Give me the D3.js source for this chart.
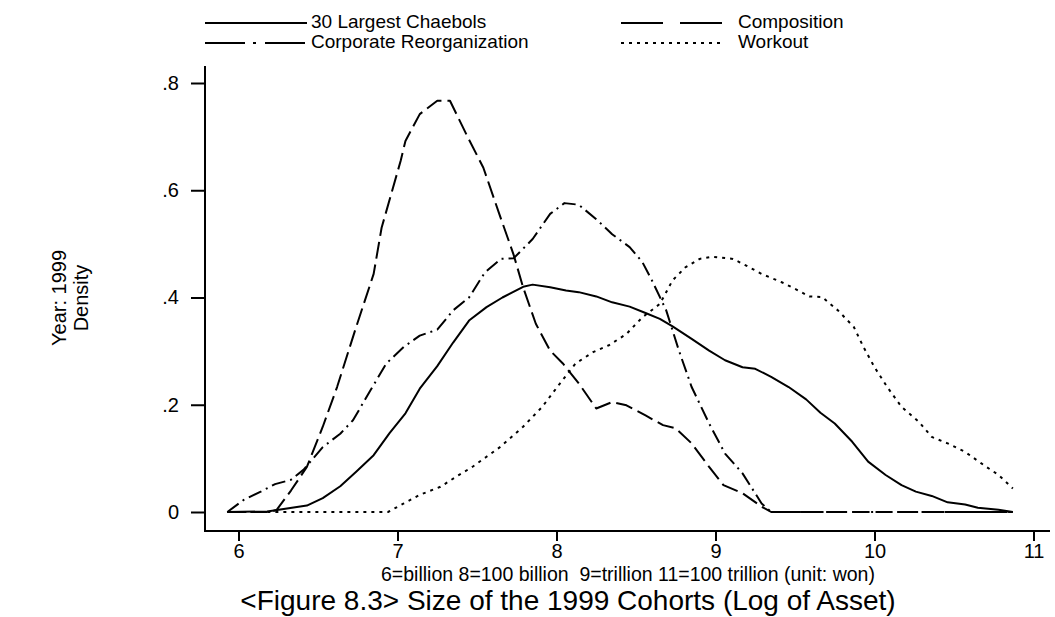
<!DOCTYPE html>
<html lang="en">
<head>
<meta charset="utf-8">
<title>Size of the 1999 Cohorts</title>
<script src="https://d3js.org/d3.v7.min.js"></script>
<style>
  body { margin: 0; background: #fff; }
  text { font-family: "Liberation Sans", Arial, Helvetica, sans-serif; fill: #000; }
</style>
</head>
<body>
<script>

// kernel density values: [log asset, density]
var chaebol30 = [[5.93,0],[6.18,0.001],[6.43,0.012],[6.53,0.026],[6.64,0.048],[6.74,0.075],[6.85,0.106],
  [6.95,0.147],[7.05,0.184],[7.14,0.23],[7.25,0.272],[7.35,0.316],[7.45,0.357],[7.56,0.382],[7.66,0.40],
  [7.79,0.42],[7.85,0.424],[7.96,0.419],[8.06,0.413],[8.14,0.41],[8.25,0.402],[8.35,0.391],[8.46,0.383],
  [8.56,0.371],[8.65,0.36],[8.73,0.346],[8.85,0.323],[8.96,0.301],[9.06,0.283],[9.17,0.27],[9.25,0.267],
  [9.35,0.252],[9.46,0.233],[9.57,0.21],[9.66,0.185],[9.75,0.165],[9.86,0.131],[9.96,0.094],[10.07,0.069],
  [10.17,0.05],[10.26,0.038],[10.36,0.03],[10.46,0.018],[10.57,0.014],[10.65,0.008],[10.78,0.004],[10.87,0]];

var composition = [[5.93,0],[6.2,0],[6.24,0.004],[6.33,0.04],[6.43,0.084],[6.53,0.159],[6.62,0.233],
  [6.74,0.345],[6.85,0.444],[6.90,0.53],[7.02,0.655],[7.05,0.692],[7.14,0.742],[7.25,0.767],[7.33,0.767],
  [7.44,0.70],[7.54,0.642],[7.64,0.556],[7.73,0.48],[7.79,0.419],[7.87,0.351],[7.96,0.301],[8.04,0.277],
  [8.14,0.24],[8.25,0.193],[8.35,0.205],[8.44,0.199],[8.56,0.18],[8.67,0.162],[8.75,0.156],[8.85,0.128],
  [8.96,0.084],[9.05,0.05],[9.17,0.035],[9.29,0.01],[9.35,0],[10.87,0]];

var reorganization = [[5.93,0],[6.03,0.022],[6.14,0.038],[6.23,0.052],[6.33,0.06],[6.41,0.079],[6.53,0.121],
  [6.64,0.146],[6.72,0.171],[6.83,0.227],[6.93,0.277],[7.04,0.308],[7.14,0.329],[7.25,0.34],[7.35,0.376],
  [7.45,0.40],[7.55,0.447],[7.65,0.472],[7.73,0.473],[7.85,0.509],[7.96,0.556],[8.05,0.576],[8.14,0.573],
  [8.25,0.546],[8.35,0.518],[8.46,0.494],[8.54,0.466],[8.60,0.432],[8.69,0.376],[8.77,0.301],[8.85,0.233],
  [8.96,0.165],[9.06,0.109],[9.17,0.072],[9.29,0.016],[9.35,0],[10.87,0]];

var workout = [[5.93,0],[6.94,0],[7.04,0.016],[7.14,0.032],[7.27,0.047],[7.37,0.066],[7.47,0.084],
  [7.56,0.103],[7.64,0.12],[7.79,0.159],[7.91,0.196],[8.02,0.239],[8.12,0.277],[8.23,0.298],[8.33,0.311],
  [8.44,0.332],[8.54,0.363],[8.65,0.388],[8.73,0.432],[8.81,0.456],[8.90,0.472],[8.98,0.476],[9.11,0.472],
  [9.19,0.46],[9.29,0.444],[9.42,0.428],[9.52,0.413],[9.59,0.402],[9.67,0.401],[9.77,0.376],[9.87,0.345],
  [9.93,0.308],[10.0,0.27],[10.08,0.233],[10.17,0.196],[10.28,0.168],[10.36,0.14],[10.46,0.128],
  [10.57,0.112],[10.67,0.091],[10.78,0.069],[10.87,0.044]];

var seriesNames = ["30 Largest Chaebols", "Composition", "Corporate Reorganization", "Workout"];
var xTicks = [6, 7, 8, 9, 10, 11];
var yTicks = [0, 0.2, 0.4, 0.6, 0.8];
var yTickLabels = ["0", ".2", ".4", ".6", ".8"];

var width = 1055,
    height = 617;

var x = d3.scaleLinear().domain([6, 11]).range([238.5, 1033.5]);
var y = d3.scaleLinear().domain([0, 0.8]).range([512, 83]);

var svg = d3.select("body").append("svg")
    .attr("width", width)
    .attr("height", height);

// line styles, in the order of seriesNames
var styles = [
  { data: chaebol30, dash: null, legendDash: null },
  { data: composition, dash: "17,6", legendDash: "42,17" },
  { data: reorganization, dash: "14,5,2,5", legendDash: "40,8,3,9" },
  { data: workout, dash: "3,5", legendDash: "3,5" }
];

// frame
svg.append("line").attr("x1", 205).attr("x2", 205).attr("y1", 66).attr("y2", 532)
    .attr("stroke", "#000").attr("stroke-width", 2);
svg.append("line").attr("x1", 204).attr("x2", 1050).attr("y1", 531).attr("y2", 531)
    .attr("stroke", "#000").attr("stroke-width", 2);

var yAxis = svg.append("g")
    .attr("transform", "translate(205,0)")
    .call(d3.axisLeft(y).tickValues(yTicks).tickSize(14).tickPadding(12)
      .tickFormat(function(d, i) { return yTickLabels[i]; }));

var xAxis = svg.append("g")
    .attr("transform", "translate(0,531)")
    .call(d3.axisBottom(x).tickValues(xTicks).tickSize(10).tickPadding(3)
      .tickFormat(d3.format("d")));

[yAxis, xAxis].forEach(function(a) {
  a.select(".domain").remove();
  a.selectAll(".tick line").attr("stroke", "#000").attr("stroke-width", 2);
  a.selectAll(".tick text").style("font-size", "20px")
    .style("font-family", "'Liberation Sans', Arial, sans-serif").attr("fill", "#000");
});

var line = d3.line()
    .x(function(d) { return x(d[0]); })
    .y(function(d) { return y(d[1]); });

svg.append("g").selectAll("path")
    .data(styles)
  .enter().append("path")
    .attr("d", function(d) { return line(d.data); })
    .attr("fill", "none")
    .attr("stroke", "#000")
    .attr("stroke-width", 2)
    .attr("stroke-linejoin", "round")
    .attr("stroke-dasharray", function(d) { return d.dash; });

// legend, two columns
var legendPos = [[205, 23], [621, 23], [205, 43], [621, 43]];
var legend = svg.append("g").selectAll("g")
    .data(styles)
  .enter().append("g")
    .attr("transform", function(d, i) { return "translate(" + legendPos[i][0] + "," + legendPos[i][1] + ")"; });

legend.append("line")
    .attr("x1", 0).attr("x2", 102)
    .attr("stroke", "#000").attr("stroke-width", 2)
    .attr("stroke-dasharray", function(d) { return d.legendDash; });

legend.append("text")
    .attr("x", function(d, i) { return i % 2 ? 117 : 106; })
    .attr("y", 5)
    .style("font-size", "19px")
    .text(function(d, i) { return seriesNames[i]; });

// y title
svg.append("text")
    .attr("transform", "translate(66,298) rotate(-90)")
    .attr("text-anchor", "middle")
    .style("font-size", "20px")
    .text("Year: 1999");
svg.append("text")
    .attr("transform", "translate(88,298) rotate(-90)")
    .attr("text-anchor", "middle")
    .style("font-size", "20px")
    .text("Density");

svg.append("text")
    .attr("x", 628).attr("y", 580.5)
    .attr("text-anchor", "middle")
    .style("font-size", "19.5px")
    .text("6=billion 8=100 billion\u00a0\u00a09=trillion 11=100 trillion (unit: won)");

svg.append("text")
    .attr("x", 568).attr("y", 610)
    .attr("text-anchor", "middle")
    .style("font-size", "28px")
    .text("<Figure 8.3> Size of the 1999 Cohorts (Log of Asset)");

</script>
</body>
</html>
